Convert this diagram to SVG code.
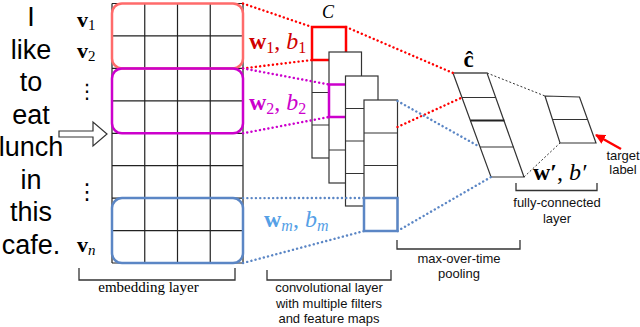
<svg xmlns="http://www.w3.org/2000/svg" width="640" height="327" viewBox="0 0 640 327">
<defs>
<style>
.word{font-family:"Liberation Sans",Arial,sans-serif;font-size:27px;text-anchor:middle;fill:#000}
.lbl{font-family:"Liberation Sans",Arial,sans-serif;font-size:13px;text-anchor:middle;fill:#111}
.ser{font-family:"Liberation Serif","Times New Roman",serif;fill:#000}
.grid{stroke:#222;stroke-width:1.2;fill:none}
.cell{fill:#fff;stroke:#333;stroke-width:1.2}
.br{fill:none;stroke:#333;stroke-width:1.3}
.dot{fill:none;stroke-width:2.4;stroke-linecap:round;stroke-dasharray:0.1 4.2}
.thin{fill:none;stroke:#333;stroke-width:1;stroke-dasharray:2 2}
</style>
<marker id="ah" viewBox="0 0 10 10" refX="9" refY="5" markerWidth="4" markerHeight="4" orient="auto" markerUnits="strokeWidth">
<path d="M0,0 L10,5 L0,10 Z" fill="#f00"/>
</marker>
</defs>
<rect width="640" height="327" fill="#fff"/>

<g id="sentence">
<text class="word" x="31" y="26">I</text>
<text class="word" x="31" y="58.5">like</text>
<text class="word" x="31" y="91">to</text>
<text class="word" x="31" y="123.5">eat</text>
<text class="word" x="31" y="156">lunch</text>
<text class="word" x="31" y="188.5">in</text>
<text class="word" x="31" y="221">this</text>
<text class="word" x="31" y="253.5">cafe.</text>
</g>

<g id="input-arrow">
<polygon points="59,131 93,131 93,122 107,134 93,146 93,137 59,137" fill="#fff" stroke="#333" stroke-width="1.2"/>
</g>

<g id="vectors" class="ser">
<text x="77" y="27" font-size="22"><tspan font-weight="bold">v</tspan><tspan font-size="15" dy="3">1</tspan></text>
<text x="77" y="58" font-size="22"><tspan font-weight="bold">v</tspan><tspan font-size="15" dy="3">2</tspan></text>
<text x="87" y="98" font-size="20" text-anchor="middle" font-family="DejaVu Sans,sans-serif">⋮</text>
<text x="87" y="199" font-size="22" text-anchor="middle" font-family="DejaVu Sans,sans-serif">⋮</text>
<text x="77" y="252" font-size="22"><tspan font-weight="bold">v</tspan><tspan font-size="15" dy="3" font-style="italic">n</tspan></text>
</g>

<g id="embedding">
<path class="grid" d="M112,3.5V263M144.75,3.5V263M177.5,3.5V263M210.25,3.5V263M243,3.5V263M112,3.5H243M112,35.9H243M112,68.4H243M112,100.8H243M112,133.3H243M112,165.7H243M112,198.1H243M112,230.6H243M112,263H243"/>
<rect x="112" y="3.5" width="131" height="64.9" rx="10" fill="none" stroke="#ff6b6b" stroke-width="2.5"/>
<rect x="112" y="68.4" width="131" height="64.9" rx="10" fill="none" stroke="#cc00cc" stroke-width="2.5"/>
<rect x="112" y="198.1" width="131" height="64.9" rx="10" fill="none" stroke="#5b86c5" stroke-width="2.5"/>
</g>

<g id="conv">
<g id="map1">
<rect class="cell" x="312" y="27" width="34" height="131"/>
<path class="cell" d="M312,60H346M312,92.5H346M312,125H346"/>
<rect x="312" y="27" width="34" height="33" fill="none" stroke="#f00" stroke-width="2.5"/>
</g>
<g id="map2">
<rect class="cell" x="329" y="52" width="32.5" height="131"/>
<path class="cell" d="M329,84.5H361.5M329,117H361.5M329,150H361.5"/>
<rect x="329" y="84.5" width="32.5" height="32.5" fill="none" stroke="#cc00cc" stroke-width="2.5"/>
</g>
<g id="map3">
<rect class="cell" x="345.5" y="76" width="32.5" height="130"/>
<path class="cell" d="M345.5,108.5H378M345.5,141H378M345.5,173.5H378"/>
</g>
<g id="map4">
<rect class="cell" x="364" y="100" width="33.5" height="131"/>
<path class="cell" d="M364,133H397.5M364,165.5H397.5"/>
<rect x="364" y="198" width="33.5" height="33" fill="none" stroke="#5b86c5" stroke-width="2.5"/>
</g>
</g>

<g id="chat">
<polygon class="cell" points="453,73 487,73 524,177 491,177"/>
<path class="cell" d="M462,97.5H496M480,147H514"/>
<path d="M470.4,120.5H504.4" stroke="#222" stroke-width="2.2"/>
<path d="M453,73H487" stroke="#777" stroke-width="2"/>
</g>

<g id="fc">
<polygon class="cell" points="545,96 579.5,97 596,143 560,143"/>
<path class="cell" d="M552.5,119.5H587.6"/>
</g>

<g id="connectors">
<path class="dot" stroke="#f00" d="M243,3.5L312,27M243,68.4L312,60M346,27L453,73M397.5,127L462,97.5"/>
<path class="dot" stroke="#cc00cc" d="M243,68.4L329,84.5M243,133.3L329,117"/>
<path class="dot" stroke="#5b86c5" d="M243,198.1L364,198M243,263L364,231M397.5,101L480,147M397.5,231L491,177"/>
<path class="thin" d="M487,73L545,96M524,177L560,143"/>
<path d="M621,149L596,135" stroke="#f00" stroke-width="2.5" fill="none" marker-end="url(#ah)"/>
</g>

<g id="labels">
<text class="ser" x="328" y="18" font-size="18" font-style="italic" text-anchor="middle">C</text>
<text class="ser" x="468.5" y="67" font-size="23" font-weight="bold" text-anchor="middle">ĉ</text>
<text class="ser" x="249" y="49" font-size="24" style="fill:#d00000"><tspan font-weight="bold">w</tspan><tspan font-size="16" dy="4">1</tspan><tspan dy="-4">, </tspan><tspan font-style="italic">b</tspan><tspan font-size="16" dy="4">1</tspan></text>
<text class="ser" x="249" y="110" font-size="24" style="fill:#cc00cc"><tspan font-weight="bold">w</tspan><tspan font-size="16" dy="4">2</tspan><tspan dy="-4">, </tspan><tspan font-style="italic">b</tspan><tspan font-size="16" dy="4">2</tspan></text>
<text class="ser" x="264" y="227" font-size="24" style="fill:#55a0e6"><tspan font-weight="bold">w</tspan><tspan font-size="16" dy="4" font-style="italic">m</tspan><tspan dy="-4">, </tspan><tspan font-style="italic">b</tspan><tspan font-size="16" dy="4" font-style="italic">m</tspan></text>
<text class="ser" x="533" y="180" font-size="24"><tspan font-weight="bold">w′</tspan>, <tspan font-style="italic">b′</tspan></text>
<text class="lbl" x="623" y="160" font-size="12.5">target</text>
<text class="lbl" x="623" y="174" font-size="12.5">label</text>
</g>

<g id="brackets">
<path class="br" d="M79,268V280H235V268"/>
<text class="ser" x="148.5" y="292" font-size="15" text-anchor="middle">embedding layer</text>
<path class="br" d="M267,270V280H391V270"/>
<text class="lbl" x="329" y="292">convolutional layer</text>
<text class="lbl" x="329" y="307.5">with multiple filters</text>
<text class="lbl" x="329" y="323">and feature maps</text>
<path class="br" d="M397,240V249H520V240"/>
<text class="lbl" x="459" y="263">max-over-time</text>
<text class="lbl" x="459" y="278">pooling</text>
<path class="br" d="M516,183V190.5H597V183"/>
<text class="lbl" x="557" y="207">fully-connected</text>
<text class="lbl" x="557" y="222.5">layer</text>
</g>
</svg>
